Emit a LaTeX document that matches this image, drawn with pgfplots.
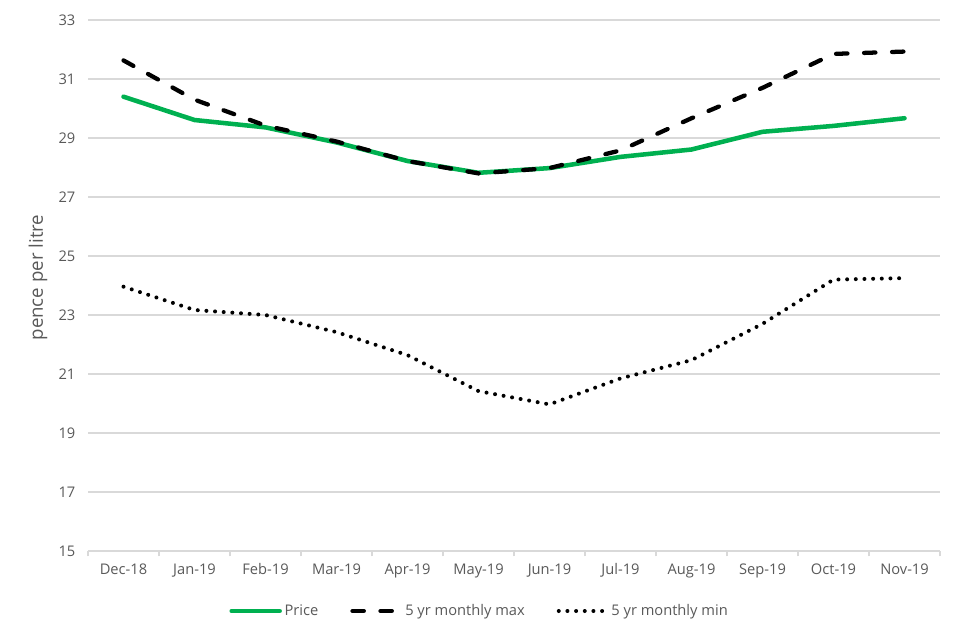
\documentclass[border=0pt]{standalone}
\usepackage{fontspec}
\setmainfont{Open Sans}
\usepackage{pgfplots}
\pgfplotsset{compat=1.18}
\definecolor{pricegreen}{RGB}{0,176,80}
\definecolor{txt}{RGB}{89,89,89}
\definecolor{gridc}{RGB}{217,217,217}
\begin{document}
\begin{tikzpicture}
\useasboundingbox (0,0) rectangle (720pt,480pt);
\begin{axis}[
  at={(66pt,66.75pt)}, anchor=south west,
  scale only axis, width=639pt, height=398.25pt,
  xmin=-0.5, xmax=11.5, ymin=15, ymax=33,
  ytick={15,17,...,33},
  xtick={0,...,11},
  xticklabels={Dec-18,Jan-19,Feb-19,Mar-19,Apr-19,May-19,Jun-19,Jul-19,Aug-19,Sep-19,Oct-19,Nov-19},
  minor xtick={-0.5,0.5,...,11.5},
  xtick align=outside,
  major tick length=0pt,
  minor tick length=4pt,
  minor x tick style={draw=gridc, line width=0.8pt},
  ytick style={draw=none},
  axis x line*=bottom, axis y line*=left,
  x axis line style={draw=gridc, line width=0.8pt},
  y axis line style={draw=none},
  ymajorgrids, grid style={draw=gridc, line width=0.8pt},
  /pgf/number format/assume math mode=true,
  tick label style={font=\fontsize{11}{13}\selectfont, text=txt},
  xticklabel style={yshift=-6pt},
  yticklabel style={xshift=-6pt},
  ylabel={pence per litre},
  ylabel style={at={(axis description cs:-0.0587,0.515)}, anchor=center, font=\fontsize{14}{16}\selectfont, text=txt},
  legend columns=3,
  legend style={at={(axis description cs:0.46,-0.113)}, anchor=center, draw=none,
    font=\fontsize{11}{13}\selectfont, text=txt,
    /tikz/every even column/.append style={column sep=22pt}},
  legend image code/.code={\draw[#1] (0pt,0pt) -- (36pt,0pt);},
  line join=round,
]
\addplot[pricegreen, line width=3.4pt, line cap=round] coordinates {
(0,30.40) (1,29.61) (2,29.36) (3,28.85) (4,28.22) (5,27.82)
(6,27.98) (7,28.36) (8,28.61) (9,29.21) (10,29.41) (11,29.67)
};
\addlegendentry{Price}
\addplot[black, line width=3.2pt, line cap=round, dash pattern=on 8.5pt off 12.5pt] coordinates {
(0,31.63) (1,30.30) (2,29.42) (3,28.88) (4,28.22) (5,27.80)
(6,27.98) (7,28.58) (8,29.67) (9,30.70) (10,31.85) (11,31.93)
};
\addlegendentry{5 yr monthly max}
\addplot[black, line width=3pt, line cap=round, dash pattern=on 0pt off 6.5pt] coordinates {
(0,23.96) (1,23.17) (2,23.00) (3,22.42) (4,21.64) (5,20.42)
(6,19.97) (7,20.85) (8,21.47) (9,22.70) (10,24.20) (11,24.25)
};
\addlegendentry{5 yr monthly min}
\end{axis}
\end{tikzpicture}
\end{document}
